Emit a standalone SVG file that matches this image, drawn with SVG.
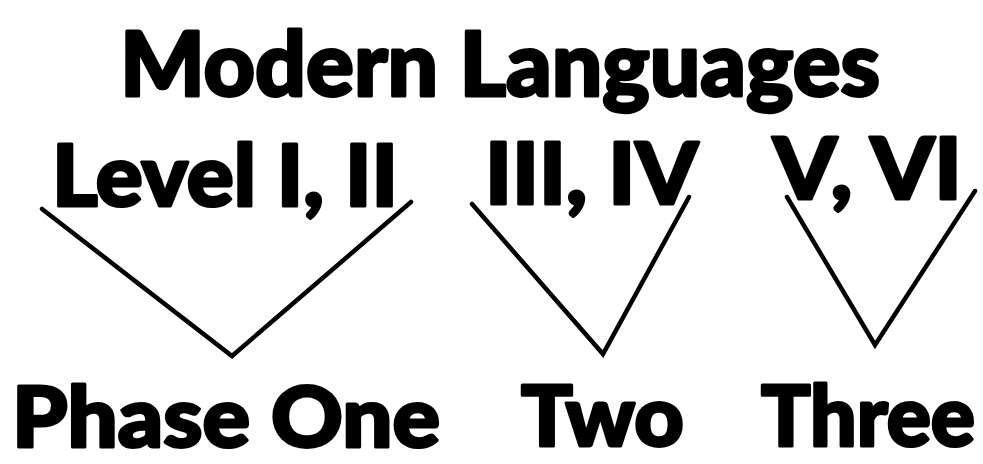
<svg xmlns="http://www.w3.org/2000/svg" width="983" height="464" viewBox="0 0 983 464">
<style>
.t{font-family:Lato,"Liberation Sans",sans-serif;font-weight:900;fill:#000;stroke:#000;stroke-width:3;stroke-linejoin:round}
.c{fill:none;stroke:#000;stroke-width:4.5;stroke-linecap:round;stroke-linejoin:miter}
</style>
<rect width="983" height="464" fill="#fff"/>
<g id="title"><text class="t" x="120" y="96" font-size="90" textLength="760" lengthAdjust="spacingAndGlyphs">Modern Languages</text></g>
<g id="level12"><text class="t" x="52" y="206" font-size="86" textLength="346" lengthAdjust="spacingAndGlyphs">Level I, II</text></g>
<g id="level34"><text class="t" x="485" y="204" font-size="86" textLength="213" lengthAdjust="spacingAndGlyphs">III, IV</text></g>
<g id="level56"><text class="t" x="773" y="199" font-size="86" textLength="189" lengthAdjust="spacingAndGlyphs">V, VI</text></g>
<g id="phase1"><text class="t" x="12" y="447" font-size="84" textLength="428" lengthAdjust="spacingAndGlyphs">Phase One</text></g>
<g id="phase2"><text class="t" x="521" y="446" font-size="84" textLength="163" lengthAdjust="spacingAndGlyphs">Two</text></g>
<g id="phase3"><text class="t" x="761" y="446" font-size="84" textLength="214" lengthAdjust="spacingAndGlyphs">Three</text></g>
<g id="connectors">
<polyline class="c" points="42,209 232,356 411,202"/>
<polyline class="c" points="472,204 603,354 689,197"/>
<polyline class="c" points="787,197 875,345 975,191"/>
</g>
</svg>
